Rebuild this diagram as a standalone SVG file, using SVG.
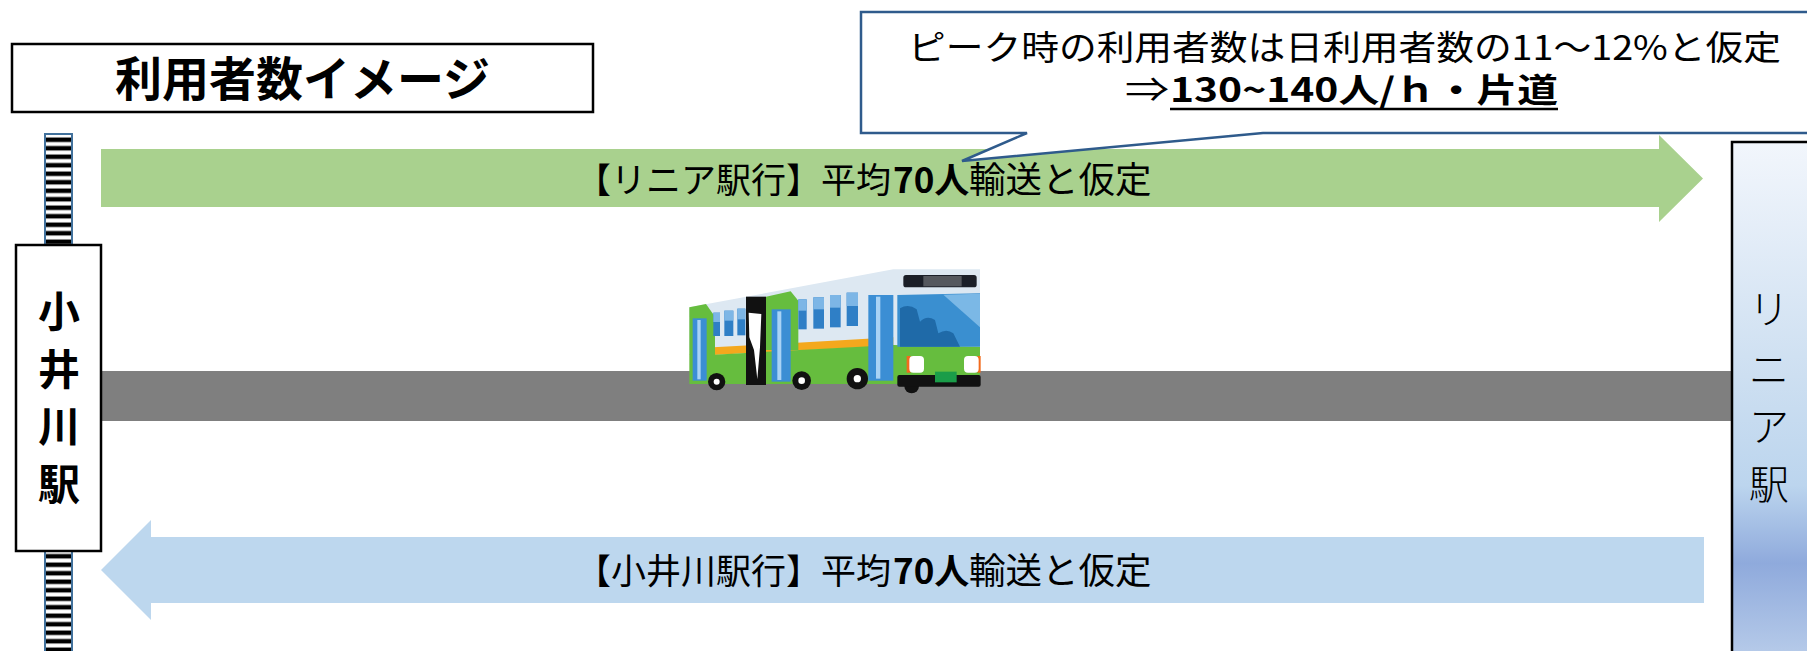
<svg xmlns="http://www.w3.org/2000/svg" width="1807" height="651" viewBox="0 0 1807 651">
  <defs>
    <style>
      .jp { font-family: "Noto Sans CJK JP", "Noto Sans", sans-serif; fill: #000; }
      .bold { font-weight: 700; }
      .box { fill: #fff; stroke: #000; stroke-width: 2.5; }
      .rail { fill: url(#sleepers); stroke: #41719c; stroke-width: 2; }
      .lbl { font-size: 35px; }
    </style>
    <pattern id="sleepers" patternUnits="userSpaceOnUse" width="30" height="8.5">
      <rect width="30" height="8.5" fill="#fff"/>
      <rect y="1.5" width="30" height="4.5" fill="#000"/>
    </pattern>
    <linearGradient id="linearFill" x1="0" y1="0" x2="0" y2="1">
      <stop offset="0" stop-color="#f2f6fc"/>
      <stop offset="0.45" stop-color="#cddff1"/>
      <stop offset="0.66" stop-color="#bcd5ee"/>
      <stop offset="0.81" stop-color="#8faadc"/>
      <stop offset="1" stop-color="#b9cdea"/>
    </linearGradient>
  </defs>

  <rect width="1807" height="651" fill="#fff"/>

  <!-- title -->
  <g id="title">
    <rect class="box" x="12" y="44" width="581" height="68"/>
    <text class="jp bold" x="302.5" y="96" font-size="47" text-anchor="middle">利用者数イメージ</text>
  </g>

  <!-- road -->
  <g id="road">
    <rect x="101" y="371" width="1631" height="50" fill="#7f7f7f"/>
  </g>

  <!-- bus -->
  <g id="bus" transform="translate(660,250) scale(0.33333)">
    <path d="M88,172 L700,58 L960,58 L960,300 L88,300 Z" fill="#dde8f2"/>
    <path d="M160,292 L700,262 L700,287 L160,315 Z" fill="#f4a81d"/>
    <path d="M88,314 L160,314 L700,285 L960,290 L960,402 L88,402 Z" fill="#66bd3e"/>
    <path d="M88,172 L138,162 L165,200 L165,315 L88,315 Z" fill="#66bd3e"/>
    <path d="M318,140 L392,124 L415,152 L415,300 L318,300 Z" fill="#66bd3e"/>
    <!-- side windows -->
    <g fill="#2f7fc6">
      <rect x="160" y="188" width="20" height="70"/>
      <rect x="193" y="182" width="27" height="76"/>
      <rect x="232" y="176" width="24" height="80"/>
      <rect x="415" y="148" width="25" height="90"/>
      <rect x="460" y="142" width="32" height="94"/>
      <rect x="510" y="135" width="32" height="97"/>
      <rect x="560" y="128" width="34" height="100"/>
    </g>
    <g fill="#7db6e6">
      <rect x="160" y="188" width="20" height="28"/>
      <rect x="193" y="182" width="27" height="30"/>
      <rect x="232" y="176" width="24" height="32"/>
      <rect x="415" y="148" width="25" height="34"/>
      <rect x="460" y="142" width="32" height="36"/>
      <rect x="510" y="135" width="32" height="38"/>
      <rect x="560" y="128" width="34" height="40"/>
    </g>
    <!-- doors -->
    <rect x="258" y="140" width="60" height="265" fill="#111"/>
    <path d="M266,188 L304,192 L300,292 L292,388 L282,300 L268,262 Z" fill="#fff"/>
    <rect x="98" y="205" width="42" height="187" fill="#3b8ed4"/>
    <rect x="112" y="210" width="10" height="178" fill="#a9d3f5"/>
    <rect x="335" y="178" width="57" height="217" fill="#3b8ed4"/>
    <rect x="352" y="184" width="12" height="206" fill="#a9d3f5"/>
    <rect x="625" y="135" width="75" height="257" fill="#3b8ed4"/>
    <rect x="648" y="140" width="13" height="246" fill="#a9d3f5"/>
    <!-- front -->
    <path d="M712,135 L960,130 L960,290 L712,290 Z" fill="#3a8fd0"/>
    <path d="M850,134 L960,131 L960,232 Z" fill="#7bb8e6"/>
    <path d="M720,290 L720,175 Q745,160 770,178 L780,215 Q800,195 825,210 L835,250 Q860,235 880,250 L900,290 Z" fill="#1f6aa8"/>
    <rect x="730" y="75" width="220" height="37" rx="8" fill="#1b1f28"/>
    <rect x="790" y="78" width="115" height="31" fill="#55585e"/>
    <rect x="740" y="318" width="12" height="50" fill="#f26b1d"/>
    <rect x="748" y="318" width="44" height="50" rx="12" fill="#fff"/>
    <rect x="952" y="318" width="10" height="50" fill="#f26b1d"/>
    <rect x="912" y="318" width="44" height="50" rx="12" fill="#fff"/>
    <circle cx="755" cy="408" r="22" fill="#111"/>
    <rect x="712" y="375" width="250" height="35" rx="6" fill="#111"/>
    <rect x="825" y="365" width="65" height="32" fill="#1a9d49"/>
    <!-- wheels -->
    <circle cx="170" cy="395" r="26" fill="#111"/>
    <circle cx="170" cy="395" r="9" fill="#fff"/>
    <circle cx="425" cy="392" r="28" fill="#111"/>
    <circle cx="425" cy="392" r="10" fill="#fff"/>
    <circle cx="592" cy="386" r="32" fill="#111"/>
    <circle cx="592" cy="386" r="11" fill="#fff"/>
  </g>

  <!-- flow arrows -->
  <g id="connectors">
    <g id="arrow-to-linear">
      <path d="M101,149 H1659 V135 L1703,178.5 L1659,222 V207 H101 Z" fill="#a9d18e"/>
      <text class="jp lbl" x="576" y="193">【リニア駅行】平均</text>
      <text class="jp lbl bold" x="893" y="193">70人</text>
      <text class="jp lbl" x="969" y="193" font-size="36.5px" style="font-size:36.5px">輸送と仮定</text>
    </g>
    <g id="arrow-to-oigawa">
      <path d="M1704,537 H151 V520 L101,570 L151,620 V603 H1704 Z" fill="#bdd7ee"/>
      <text class="jp lbl" x="576" y="584">【小井川駅行】平均</text>
      <text class="jp lbl bold" x="893" y="584">70人</text>
      <text class="jp lbl" x="969" y="584" style="font-size:36.5px">輸送と仮定</text>
    </g>
  </g>

  <!-- peak-hour note -->
  <g id="callout">
    <path d="M861,12 H1820 V133 H1263 L962,161 L1027,133 H861 Z" fill="#fff" stroke="#2f5b8c" stroke-width="2.5" stroke-linejoin="miter"/>
    <text class="jp" x="908" y="60" font-size="34" textLength="873" lengthAdjust="spacingAndGlyphs">ピーク時の利用者数は日利用者数の11～12%と仮定</text>
    <text class="jp" x="1125" y="102" font-size="34" textLength="44" lengthAdjust="spacingAndGlyphs">⇒</text>
    <text class="jp bold" x="1170" y="102" font-size="33" textLength="388" lengthAdjust="spacingAndGlyphs">130~140人/ｈ・片道</text>
    <line x1="1170" y1="109" x2="1558" y2="109" stroke="#000" stroke-width="2.5"/>
  </g>

  <!-- Oigawa station -->
  <g id="station-oigawa">
    <rect class="rail" x="45" y="134" width="27" height="111"/>
    <rect class="rail" x="45" y="551" width="27" height="110"/>
    <rect class="box" x="16" y="245" width="85" height="306"/>
    <g class="jp bold" font-size="42" text-anchor="middle">
      <text x="59" y="327">小</text>
      <text x="59" y="385">井</text>
      <text x="59" y="442">川</text>
      <text x="59" y="500">駅</text>
    </g>
  </g>

  <!-- Linear station -->
  <g id="station-linear">
    <rect x="1732" y="142" width="90" height="520" fill="url(#linearFill)" stroke="#000" stroke-width="2.5"/>
    <g class="jp" font-size="40" text-anchor="middle" font-weight="300">
      <text x="1769" y="324">リ</text>
      <text x="1769" y="384">ニ</text>
      <text x="1769" y="441">ア</text>
      <text x="1769" y="499">駅</text>
    </g>
  </g>
</svg>
